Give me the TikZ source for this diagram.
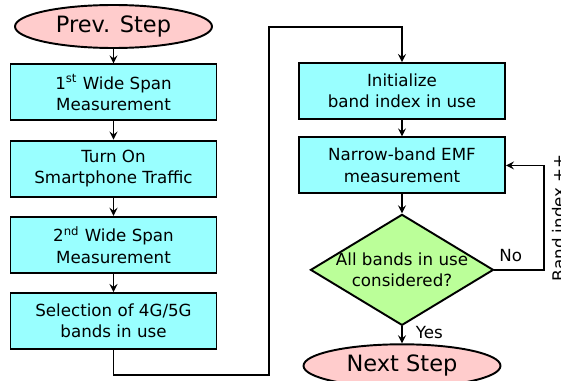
\documentclass[tikz,border=0pt]{standalone}
\usepackage{fontspec}
\setmainfont{DejaVu Sans}
\usepackage[dvipsnames]{xcolor}
\usetikzlibrary{positioning,shapes.geometric}

\definecolor{boxcyan}{RGB}{153,255,255}
\definecolor{termpink}{RGB}{255,204,204}
\definecolor{decgreen}{RGB}{187,255,153}

\begin{document}
\begin{tikzpicture}[-,>=stealth,line width=1pt,node distance=0.365cm,
  font=\fontsize{9.5}{12.2}\selectfont,
  box/.style={rectangle,draw,line width=1.1pt,fill=boxcyan,minimum width=4.12cm,minimum height=1.12cm,align=center},
  term/.style={ellipse,draw,line width=1.1pt,fill=termpink,minimum width=3.94cm,minimum height=0.86cm,inner sep=0pt,font=\fontsize{12.8}{15}\selectfont},
  decision/.style={diamond,draw,line width=1.1pt,fill=decgreen,aspect=1.634,inner xsep=-0.2cm,inner ysep=-0.06cm,minimum width=3.66cm,minimum height=2.22cm,align=center}]

            \useasboundingbox (0,0) rectangle (11.22,-7.62);

            % left column
            \node[term]  (prev) at (2.27,-0.53) {Prev. Step};
            \node[box]   (wide1) [below=0.29cm of prev] {1\textsuperscript{st} Wide Span\\Measurement};
            \node[box]   (traffic) [below=of wide1] {Turn On\\Smartphone Traffic};
            \node[box]   (wide2) [below=of traffic] {2\textsuperscript{nd} Wide Span\\Measurement};
            \node[box]   (sel) [below=of wide2] {Selection of 4G/5G\\bands in use};

            % right column
            \node[box]   (init) at (8.04,-1.82) {Initialize\\band index in use};
            \node[box]   (narrow) [below=0.33cm of init] {Narrow-band EMF\\measurement};
            \node[decision] (dec) [below=0.38cm of narrow] {All bands in use\\considered?};
            \node[term]  (next) [below=0.34cm of dec] {Next Step};

            \coordinate (turn) at (5.38,-0.54);

            \draw[->] (prev) to (wide1);
            \draw[->] (wide1) to (traffic);
            \draw[->] (traffic) to (wide2);
            \draw[->] (wide2) to (sel);
            \draw[->] (sel.south) -- ++(0,-0.5) -| (turn) -| (init.north);
            \draw[->] (init) to (narrow);
            \draw[->] (narrow) to (dec);
            \draw[->] (dec) to node[pos=0.35,right=4pt] {Yes} (next);
            \draw[->] (dec.east) -- node[pos=0.33,above=1pt] {No} ++(0.99,0)
                |- node[pos=0.25,rotate=90,anchor=north,inner sep=4pt] {Band index ++} (narrow.east);

            ;
        \end{tikzpicture}
\end{document}
